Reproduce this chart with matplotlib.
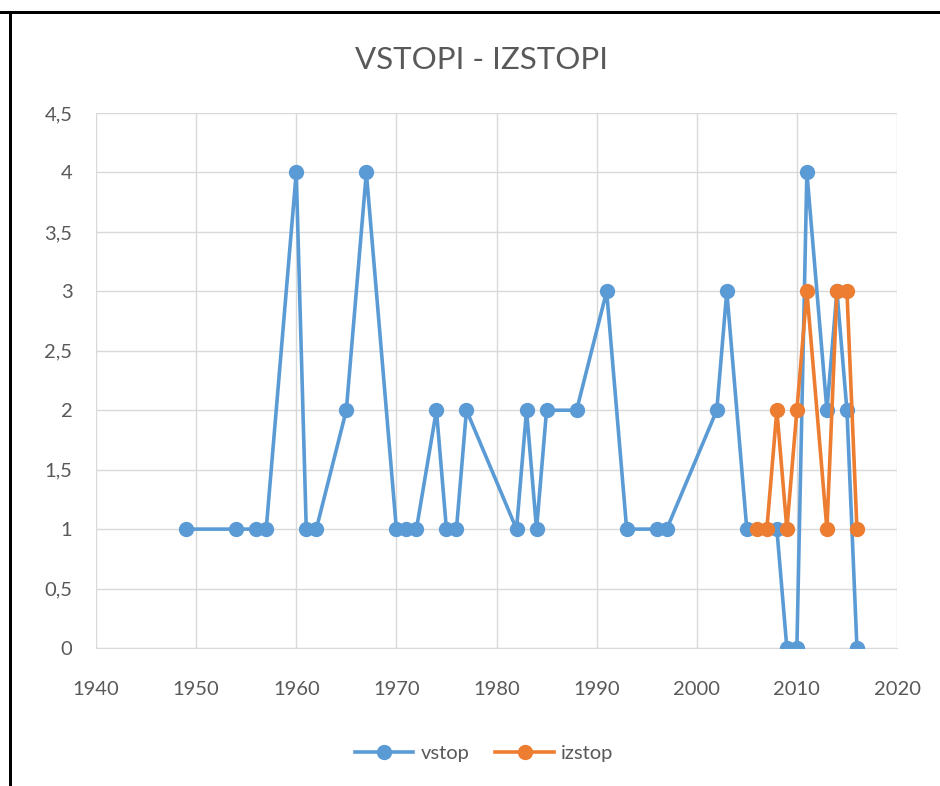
import matplotlib
matplotlib.use("Agg")
import matplotlib.pyplot as plt
from matplotlib.lines import Line2D
from matplotlib.patches import Rectangle

plt.rcParams['font.family'] = ['Lato', 'DejaVu Sans']

title = "VSTOPI - IZSTOPI"
vstop_years = [1949, 1954, 1956, 1957, 1960, 1961, 1962, 1965, 1967, 1970, 1971, 1972,
               1974, 1975, 1976, 1977, 1982, 1983, 1984, 1985, 1988, 1991, 1993, 1996,
               1997, 2002, 2003, 2005, 2008, 2009, 2010, 2011, 2013, 2014, 2015, 2016]
vstop_vals = [1, 1, 1, 1, 4, 1, 1, 2, 4, 1, 1, 1,
              2, 1, 1, 2, 1, 2, 1, 2, 2, 3, 1, 1,
              1, 2, 3, 1, 1, 0, 0, 4, 2, 3, 2, 0]
izstop_years = [2006, 2007, 2008, 2009, 2010, 2011, 2013, 2014, 2015, 2016]
izstop_vals = [1, 1, 2, 1, 2, 3, 1, 3, 3, 1]
x_ticks = [1940, 1950, 1960, 1970, 1980, 1990, 2000, 2010, 2020]
y_ticks = [0, 0.5, 1, 1.5, 2, 2.5, 3, 3.5, 4, 4.5]
y_labels = ["0", "0,5", "1", "1,5", "2", "2,5", "3", "3,5", "4", "4,5"]
series_names = ["vstop", "izstop"]

blue = "#5B9BD5"
orange = "#ED7D31"
txt = "#595959"
LW = 2.6
MS = 10

fig = plt.figure(figsize=(9.4, 7.86), dpi=100)
ax = fig.add_axes([96/940, 1-648/786, (897-96)/940, (648-113)/786])

ax.plot(vstop_years, vstop_vals, color=blue, lw=LW, marker='o', ms=MS,
        label=series_names[0], solid_joinstyle='round', zorder=3)
ax.plot(izstop_years, izstop_vals, color=orange, lw=LW, marker='o', ms=MS,
        label=series_names[1], solid_joinstyle='round', zorder=4)

ax.set_xlim(1940, 2020)
ax.set_ylim(0, 4.5)
ax.set_xticks(x_ticks)
ax.set_xticklabels([str(v) for v in x_ticks])
ax.set_yticks(y_ticks)
ax.set_yticklabels(y_labels)
ax.grid(True, color="#D9D9D9", lw=1)
ax.set_axisbelow(True)
for s in ['top', 'right', 'left']:
    ax.spines[s].set_visible(False)
ax.spines['bottom'].set_color("#D9D9D9")
ax.tick_params(length=0, colors=txt, labelsize=14.5)
ax.tick_params(axis='x', pad=24)
ax.tick_params(axis='y', pad=17)

fig.text(0.512, 1-60/786, title, ha='center', va='center', fontsize=22.5, color=txt)

handles = [Line2D([], [], color=blue, lw=LW, marker='o', ms=MS),
           Line2D([], [], color=orange, lw=LW, marker='o', ms=MS)]
fig.legend(handles, series_names, loc='center', bbox_to_anchor=(0.515, 1-753/786),
           ncol=2, frameon=False, fontsize=14.5, labelcolor=txt, handlelength=2.9,
           columnspacing=1.3, handletextpad=0.35)

# screenshot border (top and left)
fig.add_artist(Rectangle((0, 1-14/786), 1, 3/786, transform=fig.transFigure,
                         color='black', lw=0))
fig.add_artist(Rectangle((9/940, 0), 3/940, 1-11/786, transform=fig.transFigure,
                         color='black', lw=0))

fig.savefig("out.png", dpi=100, facecolor='white')
